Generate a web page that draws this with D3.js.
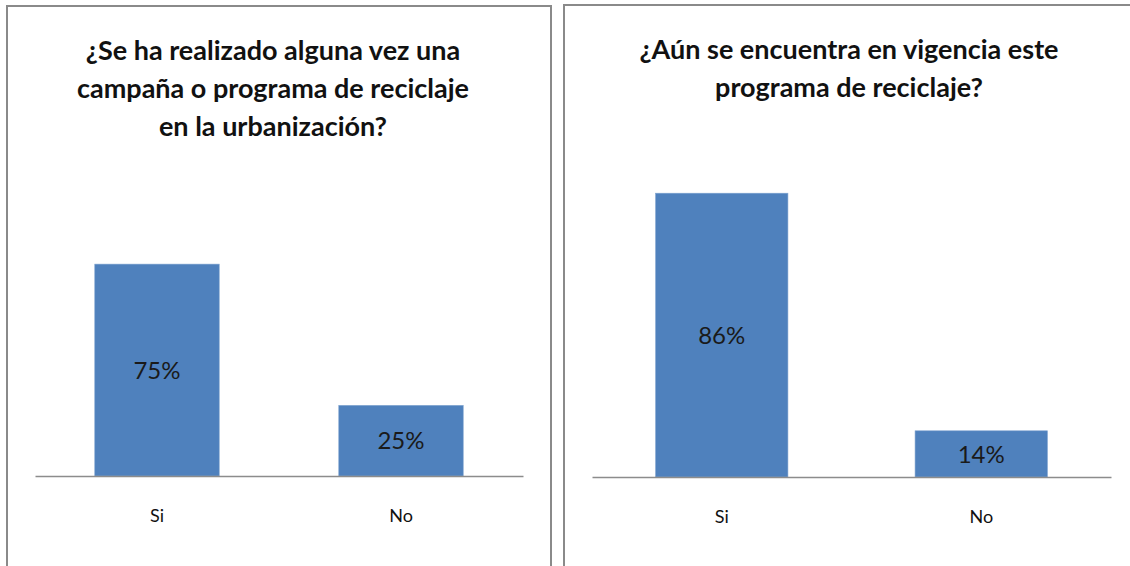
<!DOCTYPE html>
<html>
<head>
<meta charset="utf-8">
<script src="https://cdn.jsdelivr.net/npm/d3@7"></script>
<style>
  html, body { margin: 0; padding: 0; background: #fff; }
  svg { display: block; font-family: Lato, "Noto Sans", sans-serif; }
</style>
</head>
<body>
<svg id="chart" width="1130" height="566"></svg>
<script>
"use strict";

// data
const categories = ["Si", "No"];
const leftTitle = ["¿Se ha realizado alguna vez una", "campaña o programa de reciclaje", "en la urbanización?"];
const leftValues = [0.75, 0.25];
const leftLabels = ["75%", "25%"];
const rightTitle = ["¿Aún se encuentra en vigencia este", "programa de reciclaje?"];
const rightValues = [0.86, 0.14];
const rightLabels = ["86%", "14%"];

const barColor = "#4f81bd";
const axisColor = "#8c8c8c";
const frameColor = "#8a8a8a";

window.addEventListener("load", init);

function drawPanel(svg, panel) {
    const g = svg.append("g");

    // frame (bottom / right run off the picture)
    g.append("path")
        .attr("d", `M${panel.frame[0]},${panel.frame[3]} V${panel.frame[1]} H${panel.frame[2]} V${panel.frame[3]}`)
        .attr("fill", "none")
        .attr("stroke", frameColor)
        .attr("stroke-width", 2);

    // title
    g.append("text")
        .attr("x", panel.titleX)
        .attr("y", panel.titleY)
        .attr("text-anchor", "middle")
        .attr("font-size", 27)
        .attr("font-weight", "bold")
        .attr("fill", "#111")
        .selectAll("tspan")
        .data(panel.title)
        .join("tspan")
            .attr("x", panel.titleX)
            .attr("dy", (d, i) => i === 0 ? 0 : 38)
            .text(d => d);

    const xScale = d3.scaleBand()
        .domain(categories)
        .range([panel.left, panel.right])
        .paddingInner(0.49)
        .paddingOuter(0.245);
    const yScale = d3.scaleLinear()
        .domain([0, panel.yMax])
        .range([panel.bottom, panel.top]);

    const data = categories.map((c, i) => ({cat: c, value: panel.values[i], label: panel.labels[i]}));

    g.selectAll("rect.bar")
        .data(data)
        .join("rect")
            .attr("class", "bar")
            .attr("x", d => xScale(d.cat))
            .attr("y", d => yScale(d.value))
            .attr("width", xScale.bandwidth())
            .attr("height", d => yScale(0) - yScale(d.value))
            .attr("fill", barColor)
            .attr("stroke", "#7fa3cf")
            .attr("stroke-width", 0.6);

    // x axis: baseline only, labels below
    const xAxis = d3.axisBottom(xScale).tickSize(0).tickPadding(33);
    const ax = g.append("g")
        .attr("transform", `translate(0,${panel.bottom})`)
        .call(xAxis);
    ax.select(".domain")
        .attr("stroke", axisColor)
        .attr("stroke-width", 1.5);
    ax.selectAll("text")
        .attr("font-family", "Lato, 'Noto Sans', sans-serif")
        .attr("font-size", 18)
        .attr("fill", "#111");

    // data labels, centred in bars
    g.selectAll("text.value")
        .data(data)
        .join("text")
            .attr("class", "value")
            .attr("x", d => xScale(d.cat) + xScale.bandwidth() / 2)
            .attr("y", d => (yScale(d.value) + yScale(0)) / 2)
            .attr("dy", "0.36em")
            .attr("text-anchor", "middle")
            .attr("font-size", 24)
            .attr("fill", "#1a1a1a")
            .text(d => d.label);
}

function init() {
    const svg = d3.select("svg#chart");

    drawPanel(svg, {
        frame: [7, 6, 551, 600],
        title: leftTitle,
        titleX: 273, titleY: 60,
        left: 35, right: 523, top: 250, bottom: 476, yMax: 0.8,
        values: leftValues, labels: leftLabels
    });

    drawPanel(svg, {
        frame: [564, 5, 1200, 600],
        title: rightTitle,
        titleX: 849, titleY: 59,
        left: 592, right: 1111, top: 147, bottom: 477, yMax: 1.0,
        values: rightValues, labels: rightLabels
    });
}
</script>
</body>
</html>
